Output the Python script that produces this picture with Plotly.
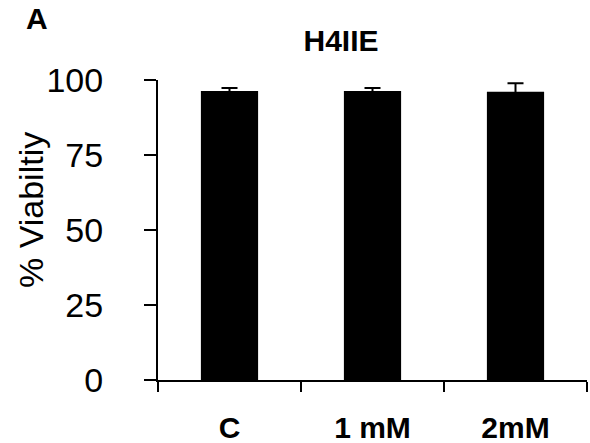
import plotly.graph_objects as go

categories = ["C", "1 mM", "2mM"]
viability = [96.3, 96.3, 96.1]
errors = [1.0, 1.0, 2.8]
y_ticks = [0, 25, 50, 75, 100]

FONT = "Liberation Sans, Arial, sans-serif"

W, H = 590, 443
ML, MR, MT, MB = 158, 3, 80, 63
PW, PH = W - ML - MR, H - MT - MB

fig = go.Figure(
    go.Bar(
        x=categories,
        y=viability,
        marker=dict(color="black", line=dict(width=0)),
        error_y=dict(type="data", array=errors, visible=True,
                     color="black", thickness=2, width=8),
        showlegend=False,
        hoverinfo="skip",
    )
)

fig.update_layout(
    width=W, height=H,
    margin=dict(l=ML, r=MR, t=MT, b=MB, autoexpand=False),
    paper_bgcolor="white", plot_bgcolor="white",
    bargap=0.6,
    font=dict(family=FONT, color="black"),
    title=dict(text="<b>H4IIE</b>", x=341 / W, xanchor="center",
               y=1 - 40 / H, yanchor="middle", xref="container", yref="container",
               font=dict(size=30, family=FONT, color="black")),
    xaxis=dict(
        automargin=False,
        showline=True, linecolor="black", linewidth=2,
        ticks="outside", ticklen=10, tickwidth=2, tickcolor="black",
        tickson="boundaries", showgrid=False, zeroline=False,
        tickfont=dict(size=30, family=FONT, color="black", weight="bold"),
        ticklabelstandoff=20,
    ),
    yaxis=dict(
        automargin=False,
        range=[0, 100], tickvals=y_ticks,
        showline=True, linecolor="black", linewidth=2,
        ticks="outside", ticklen=12, tickwidth=2, tickcolor="black",
        showgrid=False, zeroline=False,
        tickfont=dict(size=34, family=FONT, color="black"),
        ticklabelstandoff=34,
    ),
    annotations=[
        dict(text="<b>A</b>", x=(37 - ML) / PW, y=(H - MB - 19) / PH,
             xref="paper", yref="paper",
             xanchor="center", yanchor="middle", showarrow=False,
             font=dict(size=30, family=FONT, color="black")),
        dict(text="% Viabiltiy", x=(31 - ML) / PW, y=(H - MB - 210) / PH,
             xref="paper", yref="paper", textangle=-90,
             xanchor="center", yanchor="middle", showarrow=False,
             font=dict(size=34, family=FONT, color="black")),
    ],
)

fig.write_html("out.html",
               config={"displayModeBar": False, "staticPlot": True},
               post_script="document.body.style.margin='0';document.body.style.overflow='hidden';")
